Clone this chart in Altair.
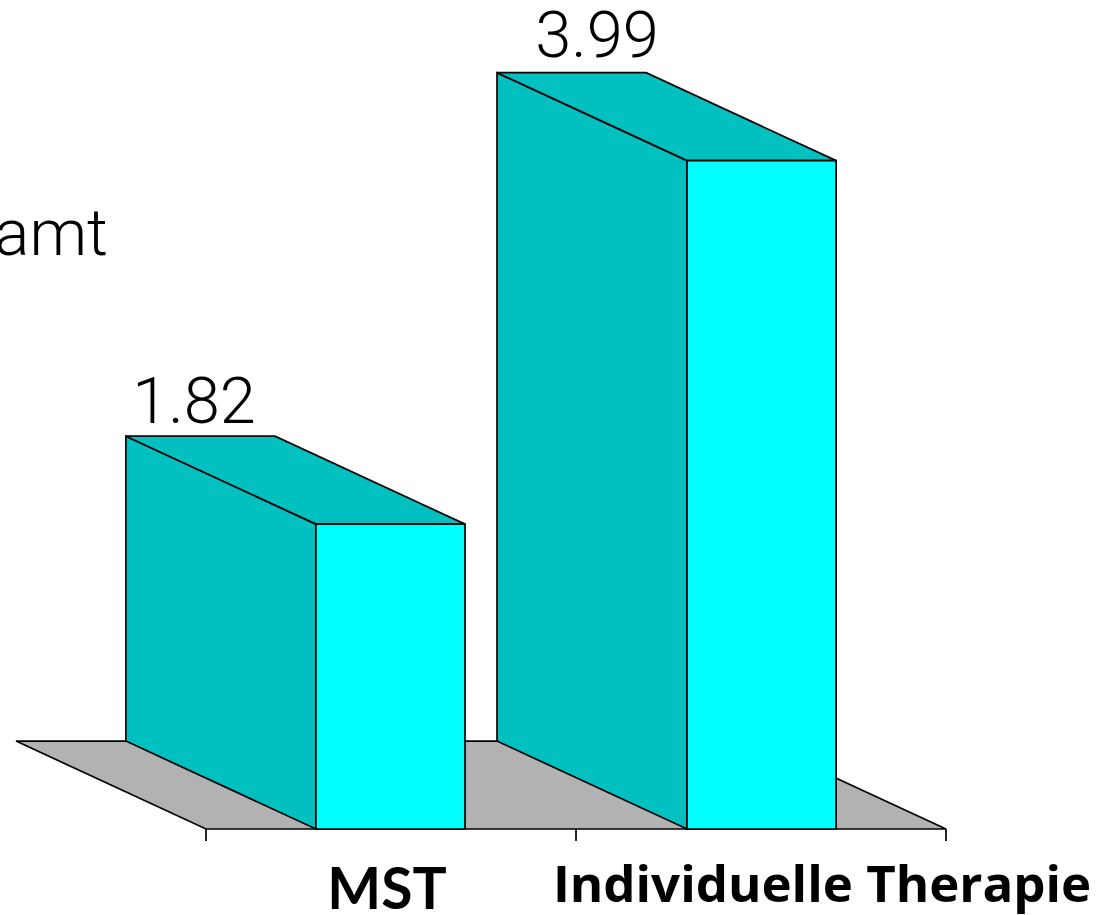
import altair as alt
import pandas as pd

# Chart content
categories = ["MST", "Individuelle Therapie"]
values = [1.82, 3.99]
value_labels = ["1.82", "3.99"]
side_note = "Gesamt"

# Geometry of the pseudo-3D projection, in axis units
bar_starts = [0.297, 1.3]
bar_width = 0.403
floor_span = 2.0
depth_x = 0.5135
depth_y = 0.525
category_label_x = [0.489, 1.665]
category_fonts = ["Lato", "Open Sans"]
category_font_sizes = [57, 51]
category_offsets = [80, 73]
value_label_x = [-0.0324, 1.0568]
value_label_y = [2.424, 4.609]
tick_positions = [0, 1, 2]

x_scale = alt.Scale(domain=[-0.5568, 2.4432], range=[0, 1110], nice=False, zero=False)
y_scale = alt.Scale(domain=[-0.5134, 4.949], range=[915, 0], nice=False, zero=False)

LINE = "#000000"
SIDE = "#00C0C0"
FRONT = "#00FFFF"
FLOOR = "#B2B2B2"
STROKE = 1.7
X = alt.X("x:Q", scale=x_scale, axis=None)
Y = alt.Y("y:Q", scale=y_scale, axis=None)


def top_like(x0, x1, y_front, fill):
    """Parallelogram with horizontal edges, receding from the front edge."""
    df = pd.DataFrame({
        "y": [y_front, y_front + depth_y],
        "x": [x0, x0 - depth_x],
        "x2": [x1, x1 - depth_x],
    })
    return alt.Chart(df).mark_area(
        orient="horizontal", fill=fill, stroke=LINE, strokeWidth=STROKE, opacity=1
    ).encode(y=Y, x=X, x2="x2:Q")


def side_face(x0, h):
    df = pd.DataFrame({
        "x": [x0 - depth_x, x0],
        "y": [h + depth_y, h],
        "y2": [depth_y, 0],
    })
    return alt.Chart(df).mark_area(
        fill=SIDE, stroke=LINE, strokeWidth=STROKE, opacity=1
    ).encode(x=X, y=Y, y2="y2:Q")


def front_face(x0, h):
    df = pd.DataFrame({"x": [x0], "x2": [x0 + bar_width], "y": [h], "y2": [0]})
    return alt.Chart(df).mark_rect(
        fill=FRONT, stroke=LINE, strokeWidth=STROKE, opacity=1
    ).encode(x=X, x2="x2:Q", y=Y, y2="y2:Q")


layers = [top_like(0, floor_span, 0, FLOOR)]

ticks = pd.DataFrame({"x": tick_positions, "y": [0] * 3, "y2": [-0.072] * 3})
layers.append(
    alt.Chart(ticks).mark_rule(color=LINE, strokeWidth=STROKE).encode(x=X, y=Y, y2="y2:Q")
)

for start, value in zip(bar_starts, values):
    layers += [
        side_face(start, value),
        top_like(start, start + bar_width, value, SIDE),
        front_face(start, value),
    ]

# Value labels sit just above the rear top edge of each bar
value_df = pd.DataFrame({"x": value_label_x, "y": value_label_y, "label": value_labels})
layers.append(
    alt.Chart(value_df).mark_text(
        font="Roboto", fontWeight=300, fontSize=65, baseline="alphabetic", color=LINE
    ).encode(x=X, y=Y, text="label:N")
)

# Category names below the floor, each with its own face and size
for name, pos, font, size, offset in zip(
    categories, category_label_x, category_fonts, category_font_sizes, category_offsets
):
    df = pd.DataFrame({"x": [pos], "y": [0], "label": [name]})
    layers.append(
        alt.Chart(df).mark_text(
            font=font, fontWeight=700, fontSize=size, baseline="alphabetic", dy=offset, color=LINE
        ).encode(x=X, y=Y, text="label:N")
    )

note_df = pd.DataFrame({"x": [-0.265], "y": [3.427], "label": [side_note]})
layers.append(
    alt.Chart(note_df).mark_text(
        font="Roboto", fontWeight=300, fontSize=65, baseline="alphabetic", align="right", color=LINE
    ).encode(x=X, y=Y, text="label:N")
)

chart = alt.layer(*layers).properties(
    width=1110,
    height=915,
    padding=0,
    autosize=alt.AutoSizeParams(type="none"),
    background="white",
).configure_view(stroke=None)

chart.save("out.html", embed_options={"renderer": "svg", "actions": False})
